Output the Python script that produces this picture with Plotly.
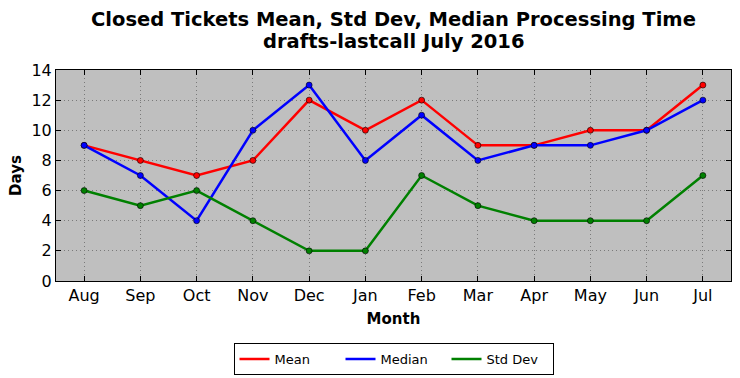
import plotly.graph_objects as go

months = ["Aug", "Sep", "Oct", "Nov", "Dec", "Jan", "Feb", "Mar", "Apr", "May", "Jun", "Jul"]
mean_vals = [9, 8, 7, 8, 12, 10, 12, 9, 9, 10, 10, 13]
median_vals = [9, 7, 4, 10, 13, 8, 11, 8, 9, 9, 10, 12]
std_vals = [6, 5, 6, 4, 2, 2, 7, 5, 4, 4, 4, 7]
title_lines = ["Closed Tickets Mean, Std Dev, Median Processing Time", "drafts-lastcall July 2016"]

series = [("Mean", mean_vals, "#ff0000"), ("Median", median_vals, "#0000ff"), ("Std Dev", std_vals, "#008000")]

fig = go.Figure()
for name, vals, col in series:
    fig.add_trace(go.Scatter(
        x=months, y=vals, mode="lines+markers", name=name, showlegend=False,
        line=dict(color=col, width=2.5),
        marker=dict(color=col, size=6, line=dict(color="#000000", width=0.6)),
    ))
for name, vals, col in series:
    fig.add_trace(go.Scatter(
        x=[None], y=[None], mode="lines", name=name, showlegend=True,
        line=dict(color=col, width=2.5),
    ))

axis_common = dict(
    showline=True, linecolor="black", linewidth=1, mirror="allticks",
    ticks="inside", ticklen=5, tickcolor="black",
    showgrid=True, gridcolor="#7a7a7a", griddash="1px,3px", gridwidth=1,
    zeroline=False, automargin=False,
    tickfont=dict(family="DejaVu Sans", size=16, color="black"),
)

title_font = dict(family="DejaVu Sans", size=19.5, color="black")
annotations = [
    dict(text="<b>%s</b>" % title_lines[0], xref="paper", yref="paper", x=0.5, y=1 + (70 - 19) / 211,
         xanchor="center", yanchor="middle", showarrow=False, font=title_font),
    dict(text="<b>%s</b>" % title_lines[1], xref="paper", yref="paper", x=0.5, y=1 + (70 - 41) / 211,
         xanchor="center", yanchor="middle", showarrow=False, font=title_font),
]

fig.update_layout(
    width=740, height=378,
    margin=dict(l=56, r=9, t=70, b=97, autoexpand=False),
    paper_bgcolor="white", plot_bgcolor="#bfbfbf",
    annotations=annotations,
    xaxis=dict(
        axis_common, type="category", categoryorder="array", categoryarray=months,
        range=[-0.5, 11.5],
        title=dict(text="<b>Month</b>", font=dict(family="DejaVu Sans", size=15, color="black"), standoff=9),
    ),
    yaxis=dict(
        axis_common, range=[0, 14], dtick=2,
        title=dict(text="<b>Days</b>", font=dict(family="DejaVu Sans", size=15, color="black"), standoff=6),
    ),
    legend=dict(
        orientation="h", x=0.5, xanchor="center", y=-0.294, yanchor="top",
        bordercolor="black", borderwidth=1, bgcolor="white",
        font=dict(family="DejaVu Sans", size=13, color="black"),
        itemwidth=30, tracegroupgap=0, entrywidth=61, entrywidthmode="pixels",
    ),
)

fig.write_html("out.html", config={"displayModeBar": False},
               post_script="document.body.style.margin='0';document.body.style.padding='0';")
